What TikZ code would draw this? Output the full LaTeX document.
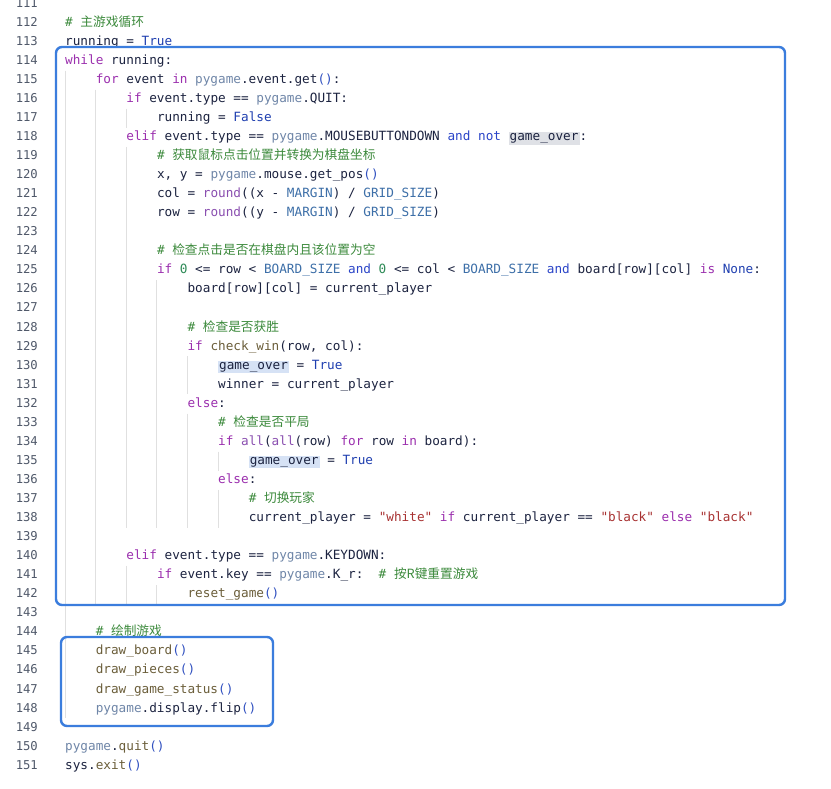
\documentclass[tikz,border=0pt]{standalone}
\usepackage{fontspec}
\newfontfamily\codefont{DejaVu Sans Mono}
\newfontfamily\cjk{Noto Sans CJK SC}
\usepackage{tikz}

\definecolor{txt}{HTML}{1C2340}
\definecolor{kwd}{HTML}{9B2FAE}
\definecolor{bool}{HTML}{1F3FB0}
\definecolor{pyg}{HTML}{6F86A8}
\definecolor{cst}{HTML}{3D6FA8}
\definecolor{bif}{HTML}{8A4FB0}
\definecolor{cmt}{HTML}{3C8A3C}
\definecolor{strg}{HTML}{A83232}
\definecolor{num}{HTML}{2E8B57}
\definecolor{opw}{HTML}{2B45C8}
\definecolor{fun}{HTML}{6B5E3A}
\definecolor{par}{HTML}{3050C0}
\definecolor{lnum}{HTML}{50596A}
\definecolor{boxc}{HTML}{3B7DDD}
\definecolor{hlg}{HTML}{DFE1E6}
\definecolor{hlb}{HTML}{D6E2F5}

\newcommand\K[1]{\textcolor{kwd}{#1}}
\newcommand\B[1]{\textcolor{bool}{#1}}
\newcommand\Pg{\textcolor{pyg}{pygame}}
\newcommand\C[1]{\textcolor{cst}{#1}}
\newcommand\F[1]{\textcolor{bif}{#1}}
\newcommand\M[1]{\textcolor{cmt}{#1}}
\newcommand\St[1]{\textcolor{strg}{#1}}
\newcommand\N[1]{\textcolor{num}{#1}}
\newcommand\Op[1]{\textcolor{opw}{#1}}
\newcommand\U[1]{\textcolor{fun}{#1}}
\newcommand\Pa{\textcolor{par}{()}}
\newcommand\hlg[1]{{\setlength\fboxsep{1pt}\colorbox{hlg}{#1}}}
\newcommand\hlb[1]{{\setlength\fboxsep{1pt}\colorbox{hlb}{#1}}}

% one source line: number, indent level, text
\newcommand\codeline[3]{%
  \node [lineno] (n#1) at (38,{23+(#1-112)*19.05}) {#1};
  \node [code] (c#1) at ({65+#2*30.6},{23+(#1-112)*19.05}) {#3};}
% indent guide: level, first line, last line
\newcommand\guide[3]{%
  \draw [guide] ({65+#1*30.6},{23+(#2-112)*19.05-9.5}) -- ({65+#1*30.6},{23+(#3-112)*19.05+9.5});}

\begin{document}
\begin{tikzpicture}[x=1pt, y=-1pt,
  code/.style={anchor=west, inner sep=0pt, text height=9.5pt, text depth=3pt,
    font=\codefont\fontsize{12.7}{14}\selectfont, text=txt},
  lineno/.style={anchor=east, inner sep=0pt, text height=9.5pt, text depth=3pt,
    font=\codefont\fontsize{12.2}{14}\selectfont, text=lnum},
  guide/.style={draw=black!12, line width=0.8pt},
  block/.style={draw=boxc, line width=2.4pt, rounded corners=6pt}]

\useasboundingbox (0,0) rectangle (831,789);
\fill [white] (0,0) rectangle (831,789);
\clip (0,0) rectangle (831,789);

% indent guides
\guide{0}{115}{148}
\guide{1}{116}{142}
\guide{2}{117}{117}
\guide{2}{119}{138}
\guide{2}{141}{142}
\guide{3}{126}{138}
\guide{3}{142}{142}
\guide{4}{130}{131}
\guide{4}{133}{138}
\guide{5}{135}{135}
\guide{5}{137}{138}

% source lines
\codeline{111}{0}{}
\codeline{112}{0}{\M{\# {\cjk 主游戏循环}}}
\codeline{113}{0}{running = \B{True}}
\codeline{114}{0}{\K{while} running:}
\codeline{115}{1}{\K{for} event \K{in} \Pg.event.get\Pa:}
\codeline{116}{2}{\K{if} event.type == \Pg.QUIT:}
\codeline{117}{3}{running = \B{False}}
\codeline{118}{2}{\K{elif} event.type == \Pg.MOUSEBUTTONDOWN \Op{and} \Op{not} \hlg{game\_over}:}
\codeline{119}{3}{\M{\# {\cjk 获取鼠标点击位置并转换为棋盘坐标}}}
\codeline{120}{3}{x, y = \Pg.mouse.get\_pos\Pa}
\codeline{121}{3}{col = \F{round}((x - \C{MARGIN}) / \C{GRID\_SIZE})}
\codeline{122}{3}{row = \F{round}((y - \C{MARGIN}) / \C{GRID\_SIZE})}
\codeline{123}{0}{}
\codeline{124}{3}{\M{\# {\cjk 检查点击是否在棋盘内且该位置为空}}}
\codeline{125}{3}{\K{if} \N{0} <= row < \C{BOARD\_SIZE} \Op{and} \N{0} <= col < \C{BOARD\_SIZE} \Op{and} board[row][col] \K{is} \B{None}:}
\codeline{126}{4}{board[row][col] = current\_player}
\codeline{127}{0}{}
\codeline{128}{4}{\M{\# {\cjk 检查是否获胜}}}
\codeline{129}{4}{\K{if} \U{check\_win}(row, col):}
\codeline{130}{5}{\hlb{game\_over} = \B{True}}
\codeline{131}{5}{winner = current\_player}
\codeline{132}{4}{\K{else}:}
\codeline{133}{5}{\M{\# {\cjk 检查是否平局}}}
\codeline{134}{5}{\K{if} \F{all}(\F{all}(row) \K{for} row \K{in} board):}
\codeline{135}{6}{\hlb{game\_over} = \B{True}}
\codeline{136}{5}{\K{else}:}
\codeline{137}{6}{\M{\# {\cjk 切换玩家}}}
\codeline{138}{6}{current\_player = \St{"white"} \K{if} current\_player == \St{"black"} \K{else} \St{"black"}}
\codeline{139}{0}{}
\codeline{140}{2}{\K{elif} event.type == \Pg.KEYDOWN:}
\codeline{141}{3}{\K{if} event.key == \Pg.K\_r:\ \ \M{\# {\cjk 按R键重置游戏}}}
\codeline{142}{4}{\U{reset\_game}\Pa}
\codeline{143}{0}{}
\codeline{144}{1}{\M{\# {\cjk 绘制游戏}}}
\codeline{145}{1}{\U{draw\_board}\Pa}
\codeline{146}{1}{\U{draw\_pieces}\Pa}
\codeline{147}{1}{\U{draw\_game\_status}\Pa}
\codeline{148}{1}{\Pg.display.flip\Pa}
\codeline{149}{0}{}
\codeline{150}{0}{\Pg.\U{quit}\Pa}
\codeline{151}{0}{sys.\U{exit}\Pa}

% highlight boxes
\draw [block] (56,47) rectangle (785,605);
\draw [block] (61,637) rectangle (273,726);

\end{tikzpicture}
\end{document}
